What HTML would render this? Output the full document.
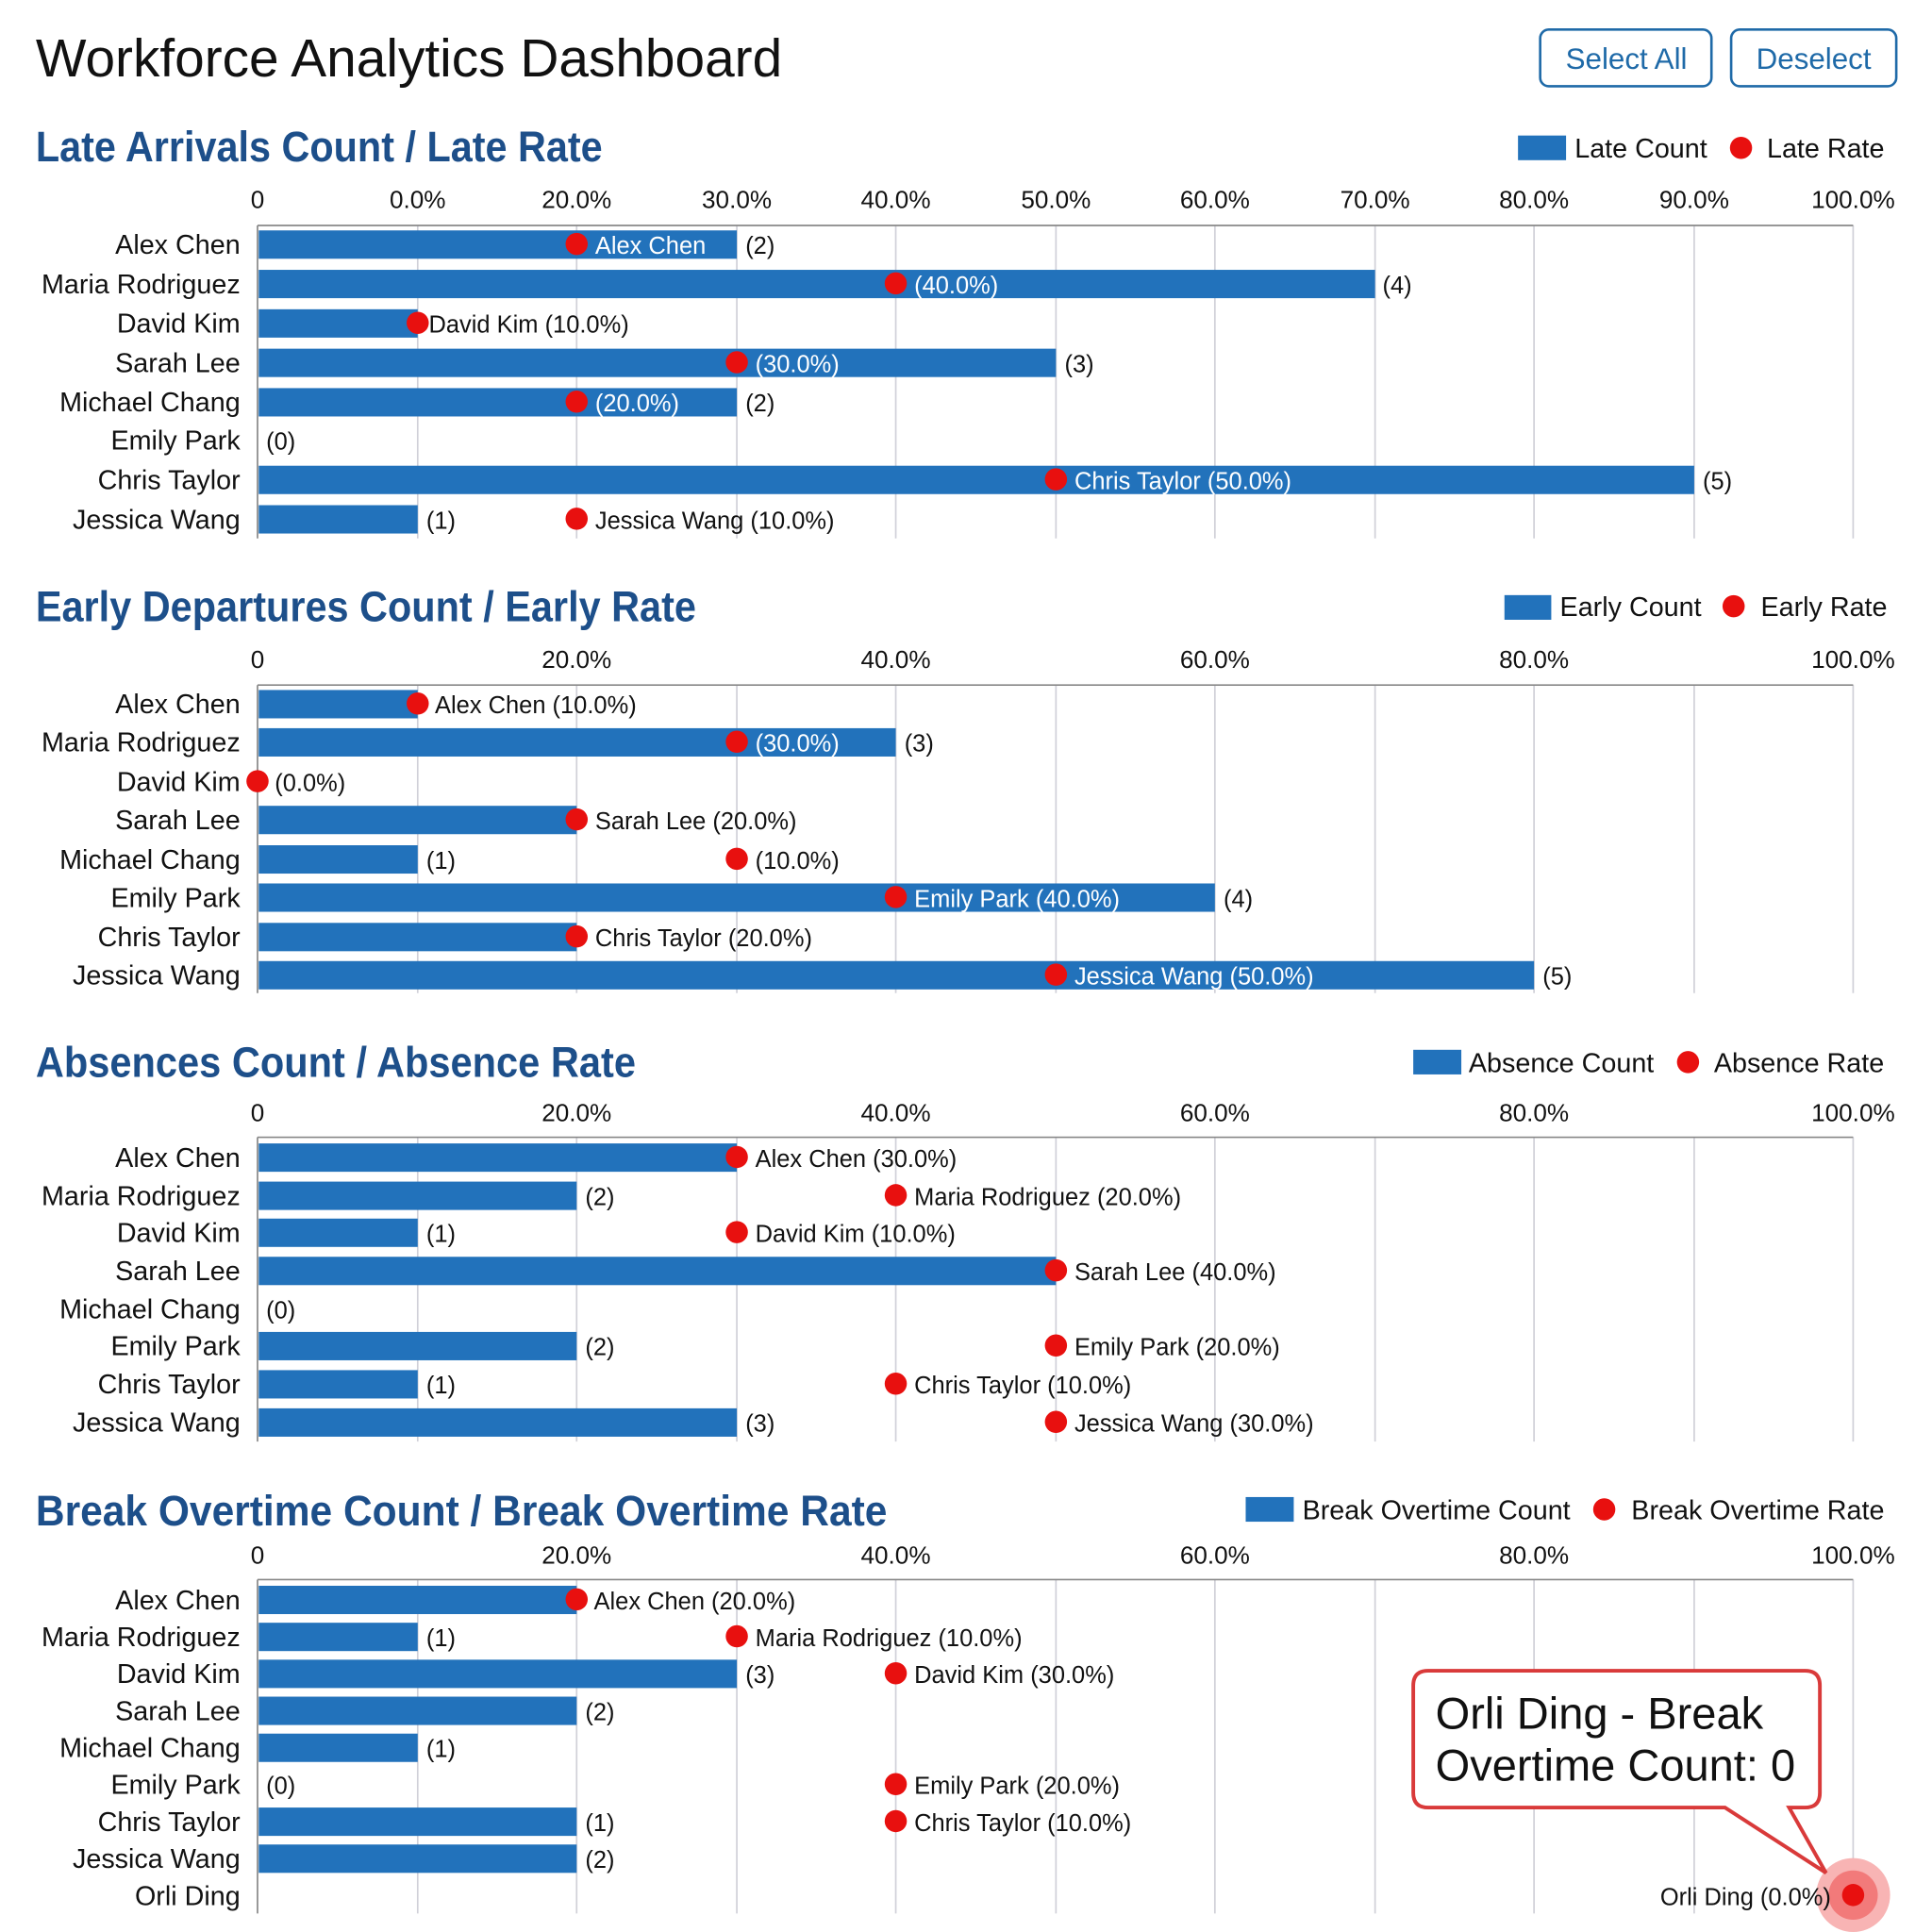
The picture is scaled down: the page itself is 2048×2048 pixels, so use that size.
<!DOCTYPE html>
<html><head><meta charset="utf-8"><style>
html,body{margin:0;padding:0;background:#fff;}
svg{display:block;}
text{font-family:"Liberation Sans Narrow","Liberation Sans",Arial,sans-serif;font-size:22px;fill:#111;}
.d text,text.d{font-size:19.5px;}
.k text{font-size:20px;}
.t{font-family:"Liberation Sans",Arial,sans-serif;font-size:43.5px;}
.h{font-weight:bold;font-size:35px;fill:#1d4f8a;}
.w{fill:#fff;}
.r{text-anchor:end;}
.m{text-anchor:middle;}
.b{fill:#2272bb;}
.g{stroke:#d0d0d8;stroke-width:1.3;}
.ax{stroke:#888;stroke-width:1.3;}
.btn{font-family:"Liberation Sans",Arial,sans-serif;font-size:24px;fill:#1f6aa8;}
</style></head><body>
<svg width="2048" height="2048" viewBox="0 0 1568 1568" xmlns="http://www.w3.org/2000/svg">
<rect width="1568" height="1568" fill="#fff"/>
<text class="t" x="29" y="62">Workforce Analytics Dashboard</text>
<rect x="1250" y="24" width="139" height="46" rx="7" fill="#fff" stroke="#1f6aa8" stroke-width="2"/>
<text class="btn m" x="1320" y="56">Select All</text>
<rect x="1405" y="24" width="134" height="46" rx="7" fill="#fff" stroke="#1f6aa8" stroke-width="2"/>
<text class="btn m" x="1472" y="56">Deselect</text>

<!-- Chart 1 -->
<text class="h" x="29" y="131" textLength="460" lengthAdjust="spacingAndGlyphs">Late Arrivals Count / Late Rate</text>
<rect class="b" x="1232" y="110" width="39" height="20"/><text x="1278" y="128">Late Count</text>
<circle cx="1413" cy="120" r="9" fill="#e8100f"/><text x="1434" y="128">Late Rate</text>
<g>
<g class="k"><text class="m" x="209" y="169">0</text><text class="m" x="339" y="169">0.0%</text><text class="m" x="468" y="169">20.0%</text><text class="m" x="598" y="169">30.0%</text><text class="m" x="727" y="169">40.0%</text><text class="m" x="857" y="169">50.0%</text><text class="m" x="986" y="169">60.0%</text><text class="m" x="1116" y="169">70.0%</text><text class="m" x="1245" y="169">80.0%</text><text class="m" x="1375" y="169">90.0%</text><text class="m" x="1504" y="169">100.0%</text></g>
<line class="g" x1="339" y1="183" x2="339" y2="437"/><line class="g" x1="468" y1="183" x2="468" y2="437"/><line class="g" x1="598" y1="183" x2="598" y2="437"/><line class="g" x1="727" y1="183" x2="727" y2="437"/><line class="g" x1="857" y1="183" x2="857" y2="437"/><line class="g" x1="986" y1="183" x2="986" y2="437"/><line class="g" x1="1116" y1="183" x2="1116" y2="437"/><line class="g" x1="1245" y1="183" x2="1245" y2="437"/><line class="g" x1="1375" y1="183" x2="1375" y2="437"/><line class="g" x1="1504" y1="183" x2="1504" y2="437"/>
<line class="ax" x1="209" y1="183" x2="1504" y2="183"/><line class="ax" x1="209" y1="183" x2="209" y2="437"/>
<text class="r" x="195" y="206">Alex Chen</text><text class="r" x="195" y="238">Maria Rodriguez</text><text class="r" x="195" y="270">David Kim</text><text class="r" x="195" y="302">Sarah Lee</text><text class="r" x="195" y="334">Michael Chang</text><text class="r" x="195" y="365">Emily Park</text><text class="r" x="195" y="397">Chris Taylor</text><text class="r" x="195" y="429">Jessica Wang</text>
<rect class="b" x="210" y="187" width="388" height="23"/><rect class="b" x="210" y="219" width="906" height="23"/><rect class="b" x="210" y="251" width="129" height="23"/><rect class="b" x="210" y="283" width="647" height="23"/><rect class="b" x="210" y="315" width="388" height="23"/><rect class="b" x="210" y="378" width="1165" height="23"/><rect class="b" x="210" y="410" width="129" height="23"/>
<g fill="#e8100f"><circle cx="468" cy="198" r="9"/><circle cx="727" cy="230" r="9"/><circle cx="339" cy="262" r="9"/><circle cx="598" cy="294" r="9"/><circle cx="468" cy="326" r="9"/><circle cx="857" cy="389" r="9"/><circle cx="468" cy="421" r="9"/></g>
<g class="d">
<text class="w" x="483" y="206">Alex Chen</text><text x="605" y="206">(2)</text>
<text class="w" x="742" y="238">(40.0%)</text><text x="1122" y="238">(4)</text>
<text x="348" y="270">David Kim (10.0%)</text>
<text class="w" x="613" y="302">(30.0%)</text><text x="864" y="302">(3)</text>
<text class="w" x="483" y="334">(20.0%)</text><text x="605" y="334">(2)</text>
<text x="216" y="365">(0)</text>
<text class="w" x="872" y="397">Chris Taylor (50.0%)</text><text x="1382" y="397">(5)</text>
<text x="346" y="429">(1)</text><text x="483" y="429">Jessica Wang (10.0%)</text>
</g></g>

<!-- Chart 2 -->
<text class="h" x="29" y="504" textLength="536" lengthAdjust="spacingAndGlyphs">Early Departures Count / Early Rate</text>
<rect class="b" x="1221" y="483" width="38" height="20"/><text x="1266" y="500">Early Count</text>
<circle cx="1407" cy="492" r="9" fill="#e8100f"/><text x="1429" y="500">Early Rate</text>
<g>
<g class="k"><text class="m" x="209" y="542">0</text><text class="m" x="468" y="542">20.0%</text><text class="m" x="727" y="542">40.0%</text><text class="m" x="986" y="542">60.0%</text><text class="m" x="1245" y="542">80.0%</text><text class="m" x="1504" y="542">100.0%</text></g>
<line class="g" x1="339" y1="556" x2="339" y2="806"/><line class="g" x1="468" y1="556" x2="468" y2="806"/><line class="g" x1="598" y1="556" x2="598" y2="806"/><line class="g" x1="727" y1="556" x2="727" y2="806"/><line class="g" x1="857" y1="556" x2="857" y2="806"/><line class="g" x1="986" y1="556" x2="986" y2="806"/><line class="g" x1="1116" y1="556" x2="1116" y2="806"/><line class="g" x1="1245" y1="556" x2="1245" y2="806"/><line class="g" x1="1375" y1="556" x2="1375" y2="806"/><line class="g" x1="1504" y1="556" x2="1504" y2="806"/>
<line class="ax" x1="209" y1="556" x2="1504" y2="556"/><line class="ax" x1="209" y1="556" x2="209" y2="806"/>
<text class="r" x="195" y="579">Alex Chen</text><text class="r" x="195" y="610">Maria Rodriguez</text><text class="r" x="195" y="642">David Kim</text><text class="r" x="195" y="673">Sarah Lee</text><text class="r" x="195" y="705">Michael Chang</text><text class="r" x="195" y="736">Emily Park</text><text class="r" x="195" y="768">Chris Taylor</text><text class="r" x="195" y="799">Jessica Wang</text>
<rect class="b" x="210" y="560" width="129" height="23"/><rect class="b" x="210" y="591" width="517" height="23"/><rect class="b" x="210" y="654" width="258" height="23"/><rect class="b" x="210" y="686" width="129" height="23"/><rect class="b" x="210" y="717" width="776" height="23"/><rect class="b" x="210" y="749" width="258" height="23"/><rect class="b" x="210" y="780" width="1035" height="23"/>
<g fill="#e8100f"><circle cx="339" cy="571" r="9"/><circle cx="598" cy="602" r="9"/><circle cx="209" cy="634" r="9"/><circle cx="468" cy="665" r="9"/><circle cx="598" cy="697" r="9"/><circle cx="727" cy="728" r="9"/><circle cx="468" cy="760" r="9"/><circle cx="857" cy="791" r="9"/></g>
<g class="d">
<text x="353" y="579">Alex Chen (10.0%)</text>
<text class="w" x="613" y="610">(30.0%)</text><text x="734" y="610">(3)</text>
<text x="223" y="642">(0.0%)</text>
<text x="483" y="673">Sarah Lee (20.0%)</text>
<text x="346" y="705">(1)</text><text x="613" y="705">(10.0%)</text>
<text class="w" x="742" y="736">Emily Park (40.0%)</text><text x="993" y="736">(4)</text>
<text x="483" y="768">Chris Taylor (20.0%)</text>
<text class="w" x="872" y="799">Jessica Wang (50.0%)</text><text x="1252" y="799">(5)</text>
</g></g>

<!-- Chart 3 -->
<text class="h" x="29" y="874" textLength="487" lengthAdjust="spacingAndGlyphs">Absences Count / Absence Rate</text>
<rect class="b" x="1147" y="852" width="39" height="20"/><text x="1192" y="870">Absence Count</text>
<circle cx="1370" cy="862" r="9" fill="#e8100f"/><text x="1391" y="870">Absence Rate</text>
<g>
<g class="k"><text class="m" x="209" y="910">0</text><text class="m" x="468" y="910">20.0%</text><text class="m" x="727" y="910">40.0%</text><text class="m" x="986" y="910">60.0%</text><text class="m" x="1245" y="910">80.0%</text><text class="m" x="1504" y="910">100.0%</text></g>
<line class="g" x1="339" y1="923" x2="339" y2="1170"/><line class="g" x1="468" y1="923" x2="468" y2="1170"/><line class="g" x1="598" y1="923" x2="598" y2="1170"/><line class="g" x1="727" y1="923" x2="727" y2="1170"/><line class="g" x1="857" y1="923" x2="857" y2="1170"/><line class="g" x1="986" y1="923" x2="986" y2="1170"/><line class="g" x1="1116" y1="923" x2="1116" y2="1170"/><line class="g" x1="1245" y1="923" x2="1245" y2="1170"/><line class="g" x1="1375" y1="923" x2="1375" y2="1170"/><line class="g" x1="1504" y1="923" x2="1504" y2="1170"/>
<line class="ax" x1="209" y1="923" x2="1504" y2="923"/><line class="ax" x1="209" y1="923" x2="209" y2="1170"/>
<text class="r" x="195" y="947">Alex Chen</text><text class="r" x="195" y="978">Maria Rodriguez</text><text class="r" x="195" y="1008">David Kim</text><text class="r" x="195" y="1039">Sarah Lee</text><text class="r" x="195" y="1070">Michael Chang</text><text class="r" x="195" y="1100">Emily Park</text><text class="r" x="195" y="1131">Chris Taylor</text><text class="r" x="195" y="1162">Jessica Wang</text>
<rect class="b" x="210" y="928" width="388" height="23"/><rect class="b" x="210" y="959" width="258" height="23"/><rect class="b" x="210" y="989" width="129" height="23"/><rect class="b" x="210" y="1020" width="647" height="23"/><rect class="b" x="210" y="1081" width="258" height="23"/><rect class="b" x="210" y="1112" width="129" height="23"/><rect class="b" x="210" y="1143" width="388" height="23"/>
<g fill="#e8100f"><circle cx="598" cy="939" r="9"/><circle cx="727" cy="970" r="9"/><circle cx="598" cy="1000" r="9"/><circle cx="857" cy="1031" r="9"/><circle cx="857" cy="1092" r="9"/><circle cx="727" cy="1123" r="9"/><circle cx="857" cy="1154" r="9"/></g>
<g class="d">
<text x="613" y="947">Alex Chen (30.0%)</text>
<text x="475" y="978">(2)</text><text x="742" y="978">Maria Rodriguez (20.0%)</text>
<text x="346" y="1008">(1)</text><text x="613" y="1008">David Kim (10.0%)</text>
<text x="872" y="1039">Sarah Lee (40.0%)</text>
<text x="216" y="1070">(0)</text>
<text x="475" y="1100">(2)</text><text x="872" y="1100">Emily Park (20.0%)</text>
<text x="346" y="1131">(1)</text><text x="742" y="1131">Chris Taylor (10.0%)</text>
<text x="605" y="1162">(3)</text><text x="872" y="1162">Jessica Wang (30.0%)</text>
</g></g>

<!-- Chart 4 -->
<text class="h" x="29" y="1238" textLength="691" lengthAdjust="spacingAndGlyphs">Break Overtime Count / Break Overtime Rate</text>
<rect class="b" x="1011" y="1215" width="39" height="20"/><text x="1057" y="1233">Break Overtime Count</text>
<circle cx="1302" cy="1225" r="9" fill="#e8100f"/><text x="1324" y="1233">Break Overtime Rate</text>
<g>
<g class="k"><text class="m" x="209" y="1269">0</text><text class="m" x="468" y="1269">20.0%</text><text class="m" x="727" y="1269">40.0%</text><text class="m" x="986" y="1269">60.0%</text><text class="m" x="1245" y="1269">80.0%</text><text class="m" x="1504" y="1269">100.0%</text></g>
<line class="g" x1="339" y1="1282" x2="339" y2="1553"/><line class="g" x1="468" y1="1282" x2="468" y2="1553"/><line class="g" x1="598" y1="1282" x2="598" y2="1553"/><line class="g" x1="727" y1="1282" x2="727" y2="1553"/><line class="g" x1="857" y1="1282" x2="857" y2="1553"/><line class="g" x1="986" y1="1282" x2="986" y2="1553"/><line class="g" x1="1116" y1="1282" x2="1116" y2="1553"/><line class="g" x1="1245" y1="1282" x2="1245" y2="1553"/><line class="g" x1="1375" y1="1282" x2="1375" y2="1553"/><line class="g" x1="1504" y1="1282" x2="1504" y2="1553"/>
<line class="ax" x1="209" y1="1282" x2="1504" y2="1282"/><line class="ax" x1="209" y1="1282" x2="209" y2="1553"/>
<text class="r" x="195" y="1306">Alex Chen</text><text class="r" x="195" y="1336">Maria Rodriguez</text><text class="r" x="195" y="1366">David Kim</text><text class="r" x="195" y="1396">Sarah Lee</text><text class="r" x="195" y="1426">Michael Chang</text><text class="r" x="195" y="1456">Emily Park</text><text class="r" x="195" y="1486">Chris Taylor</text><text class="r" x="195" y="1516">Jessica Wang</text><text class="r" x="195" y="1546">Orli Ding</text>
<rect class="b" x="210" y="1287" width="258" height="23"/><rect class="b" x="210" y="1317" width="129" height="23"/><rect class="b" x="210" y="1347" width="388" height="23"/><rect class="b" x="210" y="1377" width="258" height="23"/><rect class="b" x="210" y="1407" width="129" height="23"/><rect class="b" x="210" y="1467" width="258" height="23"/><rect class="b" x="210" y="1497" width="258" height="23"/>
<g fill="#e8100f"><circle cx="468" cy="1298" r="9"/><circle cx="598" cy="1328" r="9"/><circle cx="727" cy="1358" r="9"/><circle cx="727" cy="1448" r="9"/><circle cx="727" cy="1478" r="9"/></g>
<circle cx="1504" cy="1538" r="30" fill="#f8b4b4"/><circle cx="1504" cy="1538" r="20" fill="#f27a7a"/>
<g class="d">
<text x="482" y="1306">Alex Chen (20.0%)</text>
<text x="346" y="1336">(1)</text><text x="613" y="1336">Maria Rodriguez (10.0%)</text>
<text x="605" y="1366">(3)</text><text x="742" y="1366">David Kim (30.0%)</text>
<text x="475" y="1396">(2)</text>
<text x="346" y="1426">(1)</text>
<text x="216" y="1456">(0)</text><text x="742" y="1456">Emily Park (20.0%)</text>
<text x="475" y="1486">(1)</text><text x="742" y="1486">Chris Taylor (10.0%)</text>
<text x="475" y="1516">(2)</text>
<text class="r" x="1486" y="1546">Orli Ding (0.0%)</text>
</g>
<circle cx="1504" cy="1538" r="9" fill="#e8100f"/>
</g>

<!-- callout -->
<path d="M1159,1356 H1465 Q1477,1356 1477,1368 V1455 Q1477,1467 1465,1467 H1452 L1482,1520 L1400,1467 H1159 Q1147,1467 1147,1455 V1368 Q1147,1356 1159,1356 Z" fill="#fff" stroke="#d93a3a" stroke-width="3"/>
<text class="t" x="1165" y="1403" style="font-size:36px">Orli Ding - Break</text>
<text class="t" x="1165" y="1445" style="font-size:36px">Overtime Count: 0</text>
</svg>
</body></html>
